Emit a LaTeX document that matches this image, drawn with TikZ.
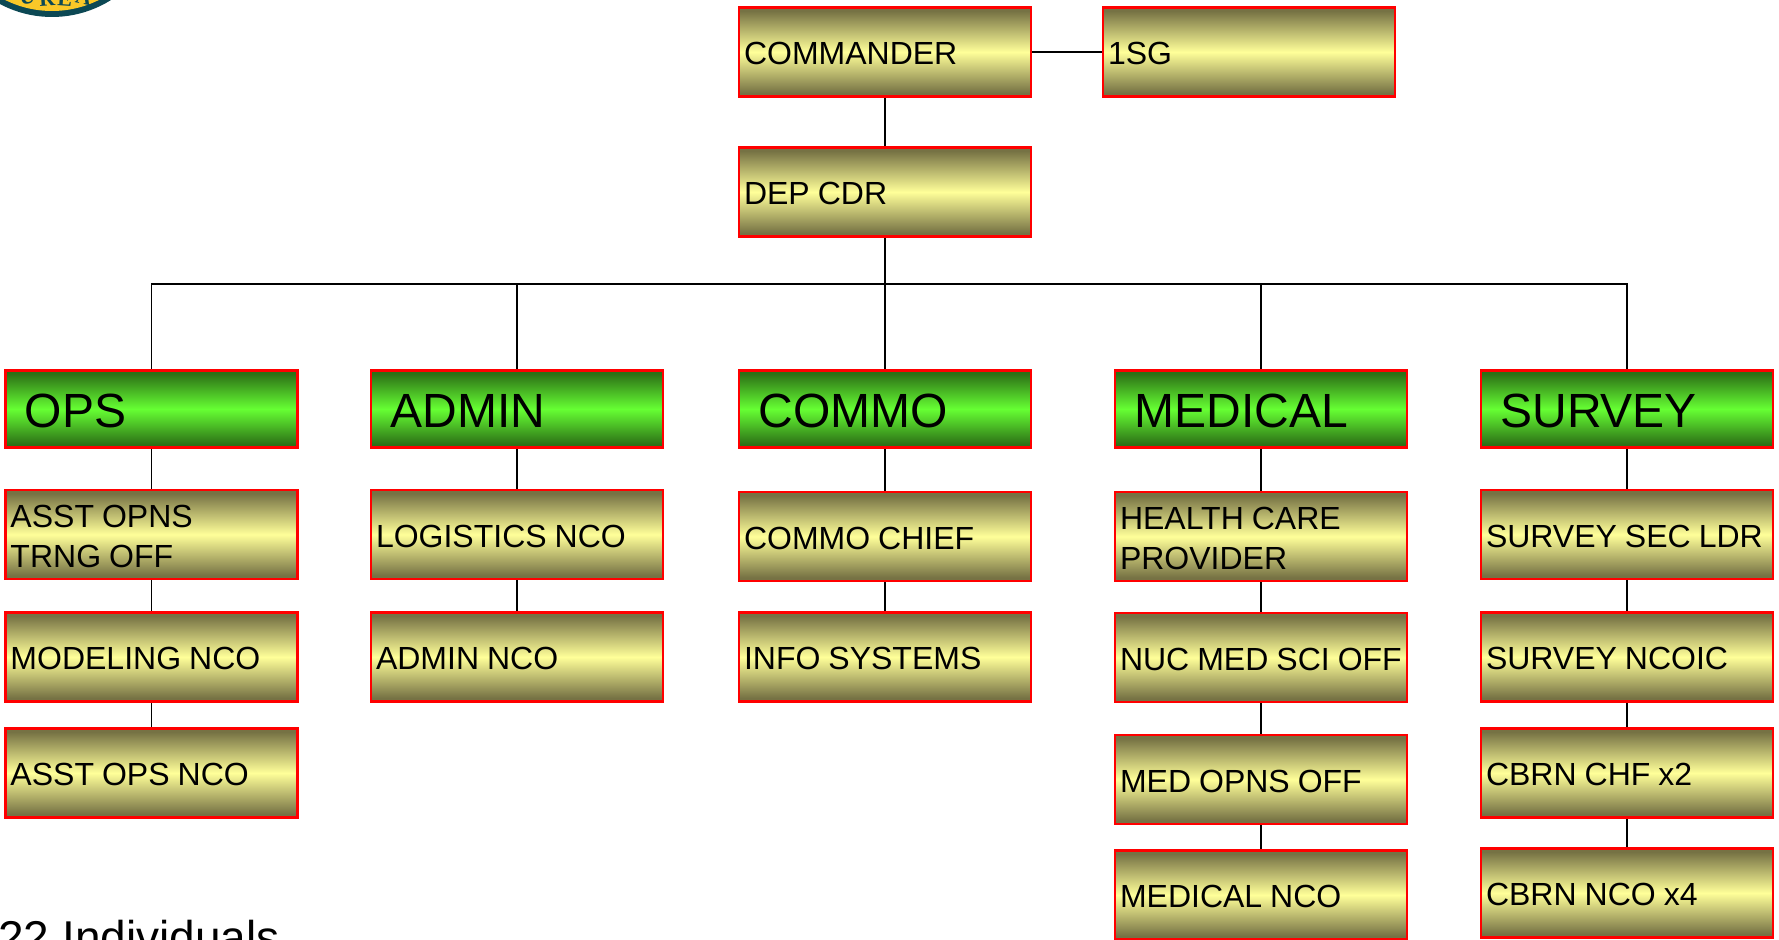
\documentclass[tikz,border=0pt]{standalone}
\usepackage{fontspec}
\setmainfont{Liberation Sans}
\newfontfamily\logofont{Liberation Serif}
\definecolor{olive}{RGB}{118,114,68}
\definecolor{paley}{RGB}{255,255,153}
\definecolor{dgreen}{RGB}{44,112,22}
\definecolor{lgreen}{RGB}{102,255,51}
\definecolor{logoteal}{RGB}{12,72,84}
\definecolor{logoyel}{RGB}{250,200,40}
\pgfdeclareverticalshading{yshade}{100bp}{color(0bp)=(olive); color(27bp)=(olive); color(50bp)=(paley); color(73bp)=(olive); color(100bp)=(olive)}
\pgfdeclareverticalshading{gshade}{100bp}{color(0bp)=(dgreen); color(27bp)=(dgreen); color(50bp)=(lgreen); color(73bp)=(dgreen); color(100bp)=(dgreen)}
\newcommand{\lft}[1]{\raisebox{-0.85pt}[\height][\depth]{#1}}
\tikzset{
  basebox/.style={draw=red,line width=1.2pt,rectangle,minimum height=44.6pt,inner ysep=0pt,align=left},
  yellowbox/.style={basebox,shading=yshade,shading angle=0,inner xsep=2.5pt,text width=141pt,font=\fontsize{16}{20}\selectfont,execute at begin node={\spaceskip=.25em\relax}},
  greenbox/.style={basebox,shading=gshade,shading angle=0,minimum height=38.6pt,inner xsep=9.7pt,text width=126.6pt,font=\fontsize{24}{28}\selectfont},
  link/.style={draw=black,line width=0.7pt},
  logoletter/.style={font=\logofont\bfseries\fontsize{11}{11}\selectfont,text=logoteal,inner sep=0pt}
}
\begin{document}
\begin{tikzpicture}[x=0.5pt,y=-0.5pt]
\useasboundingbox (0,0) rectangle (1779,940);
\clip (0,0) rectangle (1779,940);
% logo remnant
\fill[logoteal] (52,-94) circle (111);
\fill[logoyel] (52,-94) circle (105);
\node[logoletter,rotate=12] (lu) at (27,-3) {U};
\node[logoletter,rotate=4] (lr) at (47,-1) {R};
\node[logoletter,rotate=-4] (le) at (65,-1) {E};
\node[logoletter,rotate=-12] (la) at (84,-3) {A};
% nodes
\node[yellowbox] (cdr) at (885,52) {\lft{COMMANDER}};
\node[yellowbox] (sg) at (1249,52) {\lft{1SG}};
\node[yellowbox] (dep) at (885,192) {\lft{DEP CDR}};
\node[greenbox] (ops) at (151.5,409) {\lft{OPS}};
\node[greenbox] (adm) at (517,409) {\lft{ADMIN}};
\node[greenbox] (com) at (885,409) {\lft{COMMO}};
\node[greenbox] (med) at (1261,409) {\lft{MEDICAL}};
\node[greenbox] (sur) at (1627,409) {\lft{SURVEY}};
\node[yellowbox] (o1) at (151.5,534.5) {\lft{ASST OPNS}\\\lft{TRNG OFF}};
\node[yellowbox] (o2) at (151.5,657) {\lft{MODELING NCO}};
\node[yellowbox] (o3) at (151.5,773) {\lft{ASST OPS NCO}};
\node[yellowbox] (a1) at (517,534.5) {\lft{LOGISTICS NCO}};
\node[yellowbox] (a2) at (517,657) {\lft{ADMIN NCO}};
\node[yellowbox] (c1) at (885,536.5) {\lft{COMMO CHIEF}};
\node[yellowbox] (c2) at (885,657) {\lft{INFO SYSTEMS}};
\node[yellowbox] (m1) at (1261,536.5) {\lft{HEALTH CARE}\\\lft{PROVIDER}};
\node[yellowbox] (m2) at (1261,657.5) {\lft{NUC MED SCI OFF}};
\node[yellowbox] (m3) at (1261,779.5) {\lft{MED OPNS OFF}};
\node[yellowbox] (m4) at (1261,895) {\lft{MEDICAL NCO}};
\node[yellowbox] (s1) at (1627,534.5) {\lft{SURVEY SEC LDR}};
\node[yellowbox] (s2) at (1627,657) {\lft{SURVEY NCOIC}};
\node[yellowbox] (s3) at (1627,773) {\lft{CBRN CHF x2}};
\node[yellowbox] (s4) at (1627,893) {\lft{CBRN NCO x4}};
\node[anchor=base west,inner sep=0pt,font=\fontsize{23}{23}\selectfont] (count) at (-2,953) {22 Individuals};
% connectors
\coordinate (bus) at (885,284);
\draw[link] (cdr) -- (sg);
\draw[link] (cdr) -- (dep);
\draw[link] (dep) -- (com);
\draw[link] (ops.north) -- (ops.north |- bus) -- (sur.north |- bus) -- (sur.north);
\draw[link] (adm.north) -- (adm.north |- bus);
\draw[link] (med.north) -- (med.north |- bus);
\draw[link] (ops) -- (o1);
\draw[link] (o1) -- (o2);
\draw[link] (o2) -- (o3);
\draw[link] (adm) -- (a1);
\draw[link] (a1) -- (a2);
\draw[link] (com) -- (c1);
\draw[link] (c1) -- (c2);
\draw[link] (med) -- (m1);
\draw[link] (m1) -- (m2);
\draw[link] (m2) -- (m3);
\draw[link] (m3) -- (m4);
\draw[link] (sur) -- (s1);
\draw[link] (s1) -- (s2);
\draw[link] (s2) -- (s3);
\draw[link] (s3) -- (s4);
\end{tikzpicture}
\end{document}
